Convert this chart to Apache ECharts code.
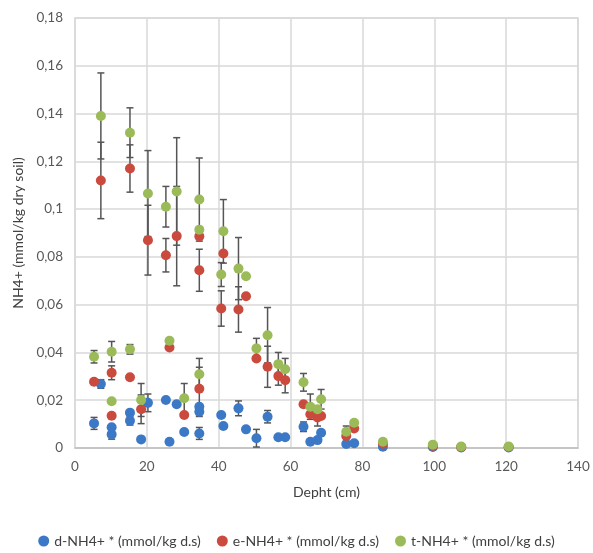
<!DOCTYPE html>
<html>
<head>
<meta charset="utf-8">
<script src="https://cdn.jsdelivr.net/npm/echarts@6/dist/echarts.min.js"></script>
<style>
  html, body { margin: 0; padding: 0; background: #fff; }
  #chart { width: 593px; height: 553px; }
</style>
</head>
<body>
<div id="chart"></div>
<script>
// sample depth (cm), shared by the three series
const depth = [5.3, 7.2, 10.2, 10.2, 15.3, 15.3, 18.4, 20.3, 25.3, 26.3, 28.3, 30.4, 34.6, 34.6, 34.6,
  40.7, 41.3, 45.5, 47.6, 50.5, 53.6, 56.6, 58.5, 63.6, 65.5, 67.5, 68.5, 75.5, 77.7, 85.7, 99.6, 107.5, 120.7]

const dValues = [0.0103, 0.0268, 0.0087, 0.0057, 0.0148, 0.0114, 0.0036, 0.0189, 0.0201, 0.0026, 0.0183, 0.0067, 0.0152, 0.0173, 0.0061,
  0.0138, 0.0092, 0.0166, 0.0078, 0.0041, 0.0131, 0.0045, 0.0045, 0.0089, 0.0026, 0.0033, 0.0064, 0.0017, 0.002, 0.0005, 0.0004, 0.0002, 0.0002]
const eValues = [0.0277, 0.112, 0.0315, 0.0135, 0.117, 0.0296, 0.0162, 0.087, 0.0807, 0.0421, 0.0887, 0.0138, 0.0886, 0.0744, 0.0248,
  0.0584, 0.0814, 0.058, 0.0635, 0.0375, 0.034, 0.0301, 0.0284, 0.0183, 0.0141, 0.0128, 0.0134, 0.005, 0.0082, 0.0018, 0.0009, 0.0004, 0.0004]
const tValues = [0.0382, 0.139, 0.0403, 0.0196, 0.132, 0.0413, 0.0201, 0.1065, 0.101, 0.0449, 0.1074, 0.0208, 0.104, 0.0914, 0.0309,
  0.0726, 0.0907, 0.0751, 0.0719, 0.0417, 0.0472, 0.0351, 0.033, 0.0275, 0.0173, 0.0162, 0.0204, 0.0068, 0.0106, 0.0026, 0.0014, 0.0006, 0.0006]

// +/- error, 0 = no bar
const dErrors = [0.0025, 0.0018, 0, 0.002, 0, 0.0018, 0, 0.0037, 0, 0, 0, 0, 0.002, 0, 0.0025,
  0, 0, 0.0031, 0, 0.0037, 0.0026, 0, 0, 0.002, 0, 0, 0, 0, 0, 0, 0, 0, 0]
const eErrors = [0, 0.016, 0.0029, 0, 0.0099, 0, 0.006, 0.0146, 0.007, 0, 0.0208, 0, 0, 0.0088, 0.009,
  0.0074, 0, 0.0095, 0, 0, 0.0086, 0.0038, 0.0053, 0, 0, 0.0036, 0, 0, 0, 0, 0, 0, 0]
const tErrors = [0.0026, 0.018, 0.0043, 0, 0.0104, 0.002, 0.0069, 0.018, 0.0085, 0, 0.0225, 0.0062, 0.0174, 0, 0.0066,
  0.005, 0.0133, 0.013, 0, 0.0042, 0.0116, 0.0049, 0.0045, 0.0037, 0.0053, 0, 0.0041, 0.0024, 0, 0, 0, 0, 0]

const seriesNames = ['d-NH4+ * (mmol/kg d.s)', 'e-NH4+ * (mmol/kg d.s)', 't-NH4+ * (mmol/kg d.s)']
const colors = ['#3b78c6', '#cb4a3e', '#9bbb59']

const font = 'Lato, "Open Sans", sans-serif'

function points(values) {
  return depth.map((d, i) => [d, values[i]])
}
function errPoints(values, errs) {
  const out = []
  depth.forEach((d, i) => {
    if (errs[i] > 0) out.push([d, values[i], errs[i]])
  })
  return out
}

function renderError(params, api) {
  const x = api.value(0)
  const y = api.value(1)
  const e = api.value(2)
  const top = api.coord([x, y + e])
  const bot = api.coord([x, y - e])
  const w = 3.5
  const style = {stroke: '#555', lineWidth: 1.5}
  return {
    type: 'group',
    children: [
      {type: 'line', shape: {x1: top[0], y1: top[1], x2: bot[0], y2: bot[1]}, style: style},
      {type: 'line', shape: {x1: top[0] - w, y1: top[1], x2: top[0] + w, y2: top[1]}, style: style},
      {type: 'line', shape: {x1: bot[0] - w, y1: bot[1], x2: bot[0] + w, y2: bot[1]}, style: style}
    ]
  }
}

const chart = echarts.init(document.getElementById('chart'))
const allValues = [dValues, eValues, tValues]
const allErrors = [dErrors, eErrors, tErrors]

const series = []
allValues.forEach((vals, k) => {
  series.push({
    type: 'custom',
    renderItem: renderError,
    data: errPoints(vals, allErrors[k]),
    z: 1,
    silent: true
  })
})
allValues.forEach((vals, k) => {
  series.push({
    name: seriesNames[k],
    type: 'scatter',
    symbol: 'circle',
    symbolSize: 10,
    data: points(vals),
    itemStyle: {color: colors[k], opacity: 1},
    z: 2
  })
})

chart.setOption({
  animation: false,
  textStyle: {fontFamily: font},
  grid: {left: 75, right: 15, top: 18, bottom: 105, show: true, borderColor: '#d9d9d9', borderWidth: 1.5},
  xAxis: {
    type: 'value',
    min: 0,
    max: 140,
    interval: 20,
    name: 'Depht (cm)',
    nameLocation: 'middle',
    nameGap: 37,
    nameTextStyle: {color: '#404040', fontSize: 14, fontFamily: font},
    axisLine: {lineStyle: {color: '#bfbfbf', width: 1.5}},
    axisTick: {show: false},
    axisLabel: {color: '#595959', fontSize: 13.5, fontFamily: font, margin: 12},
    splitLine: {lineStyle: {color: '#d9d9d9', width: 1.5}}
  },
  yAxis: {
    type: 'value',
    min: 0,
    max: 0.18,
    interval: 0.02,
    name: 'NH4+ (mmol/kg dry soil)',
    nameLocation: 'middle',
    nameGap: 50,
    nameTextStyle: {color: '#404040', fontSize: 14, fontFamily: font},
    axisLine: {show: false},
    axisTick: {show: false},
    axisLabel: {
      color: '#595959', fontSize: 13.5, fontFamily: font, margin: 12,
      formatter: v => String(Math.round(v * 100) / 100).replace('.', ',')
    },
    splitLine: {lineStyle: {color: '#d9d9d9', width: 1.5}}
  },
  legend: {
    data: seriesNames,
    bottom: 0,
    left: 'center',
    icon: 'circle',
    itemWidth: 11,
    itemHeight: 11,
    itemGap: 16,
    textStyle: {color: '#404040', fontSize: 14, fontFamily: font}
  },
  series: series
})
</script>
</body>
</html>
